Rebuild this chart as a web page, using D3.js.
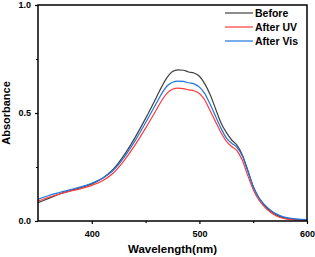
<!DOCTYPE html>
<html>
<head>
<meta charset="utf-8">
<script src="https://cdn.jsdelivr.net/npm/d3@7"></script>
<style>
  body { margin: 0; background: #fff; }
  text { font-family: "Liberation Sans", Arial, sans-serif; font-weight: bold; }
</style>
</head>
<body>
<script>
// data
var wavelengths = [350, 360, 370, 380, 390, 400, 410, 420, 430, 440, 450, 460, 465, 470, 475, 480, 485, 490, 495, 500,
                   505, 510, 515, 520, 525, 530, 535, 540, 545, 550, 555, 560, 565, 570, 575, 580, 590, 600];
var before   = [0.085, 0.105, 0.125, 0.14, 0.155, 0.172, 0.198, 0.24, 0.305, 0.385, 0.475, 0.572, 0.622, 0.665, 0.692, 0.70, 0.698, 0.69, 0.685, 0.67,
                0.635, 0.585, 0.52, 0.455, 0.41, 0.375, 0.35, 0.305, 0.235, 0.16, 0.11, 0.075, 0.05, 0.032, 0.02, 0.013, 0.007, 0.004];
var afterUV  = [0.092, 0.11, 0.125, 0.138, 0.15, 0.165, 0.186, 0.222, 0.28, 0.35, 0.43, 0.515, 0.558, 0.592, 0.61, 0.615, 0.613, 0.607, 0.603, 0.59,
                0.56, 0.51, 0.46, 0.41, 0.37, 0.345, 0.325, 0.28, 0.21, 0.145, 0.10, 0.068, 0.045, 0.028, 0.016, 0.01, 0.005, 0.003];
var afterVis = [0.10, 0.118, 0.132, 0.145, 0.158, 0.175, 0.198, 0.235, 0.295, 0.37, 0.455, 0.545, 0.59, 0.625, 0.642, 0.648, 0.646, 0.64, 0.635, 0.62,
                0.59, 0.54, 0.485, 0.43, 0.385, 0.36, 0.34, 0.30, 0.23, 0.16, 0.11, 0.078, 0.055, 0.037, 0.025, 0.017, 0.01, 0.006];
var seriesNames = ["Before", "After UV", "After Vis"];
var seriesColors = ["#404040", "#ff3a3a", "#1f74e0"];
var xTicks = [400, 500, 600];
var yTicks = [0.0, 0.5, 1.0];

var margin = {top: 5, right: 8, bottom: 36, left: 38},
    width = 315 - margin.left - margin.right,
    height = 257 - margin.top - margin.bottom;

var svg = d3.select("body").append("svg")
    .attr("width", 315)
    .attr("height", 257)
  .append("g")
    .attr("transform", "translate(" + margin.left + "," + margin.top + ")");

var x = d3.scaleLinear().domain([350, 600]).range([0, width]);
var y = d3.scaleLinear().domain([0, 1]).range([height, 0]);

var allSeries = [before, afterUV, afterVis];

var line = d3.line()
    .x(function(d, i) { return x(wavelengths[i]); })
    .y(function(d) { return y(d); })
    .curve(d3.curveMonotoneX);

svg.selectAll(".curve")
    .data(allSeries)
  .enter().append("path")
    .attr("class", "curve")
    .attr("fill", "none")
    .attr("stroke", function(d, i) { return seriesColors[i]; })
    .attr("stroke-width", 1.2)
    .attr("d", line);

// frame
svg.append("rect")
    .attr("width", width)
    .attr("height", height)
    .attr("fill", "none")
    .attr("stroke", "#000")
    .attr("stroke-width", 1.5);

// x axis
var xAxis = svg.append("g")
    .attr("transform", "translate(0," + height + ")")
    .call(d3.axisBottom(x).tickValues(xTicks).tickSize(3).tickFormat(d3.format("d")));
svg.append("g")
    .attr("transform", "translate(0," + height + ")")
    .call(d3.axisBottom(x).tickValues([450, 550]).tickSize(2).tickFormat(""));

// y axis
var yAxis = svg.append("g")
    .call(d3.axisLeft(y).tickValues(yTicks).tickSize(3).tickFormat(d3.format(".1f")));
svg.append("g")
    .call(d3.axisLeft(y).tickValues([0.25, 0.75]).tickSize(2).tickFormat(""));

svg.selectAll(".domain").remove();
svg.selectAll(".tick line").attr("stroke", "#000").attr("stroke-width", 1.2);
xAxis.selectAll("text").attr("font-size", 9).attr("dy", "1.1em");
yAxis.selectAll("text").attr("font-size", 9).attr("dx", "-1px");

// axis titles
svg.append("text")
    .attr("x", width / 2)
    .attr("y", height + 32)
    .attr("text-anchor", "middle")
    .attr("font-size", 11.5)
    .text("Wavelength(nm)");

svg.append("text")
    .attr("transform", "rotate(-90)")
    .attr("x", -height / 2)
    .attr("y", -28)
    .attr("text-anchor", "middle")
    .attr("font-size", 11)
    .text("Absorbance");

// legend
var legend = svg.selectAll(".legend")
    .data(seriesNames)
  .enter().append("g")
    .attr("class", "legend")
    .attr("transform", function(d, i) { return "translate(" + (width - 82) + "," + (8 + i * 14) + ")"; });

legend.append("line")
    .attr("x1", 0).attr("x2", 28)
    .attr("stroke", function(d, i) { return seriesColors[i]; })
    .attr("stroke-width", 1.2);

legend.append("text")
    .attr("x", 30)
    .attr("dy", "0.35em")
    .attr("font-size", 10.5)
    .text(function(d) { return d; });
</script>
</body>
</html>
